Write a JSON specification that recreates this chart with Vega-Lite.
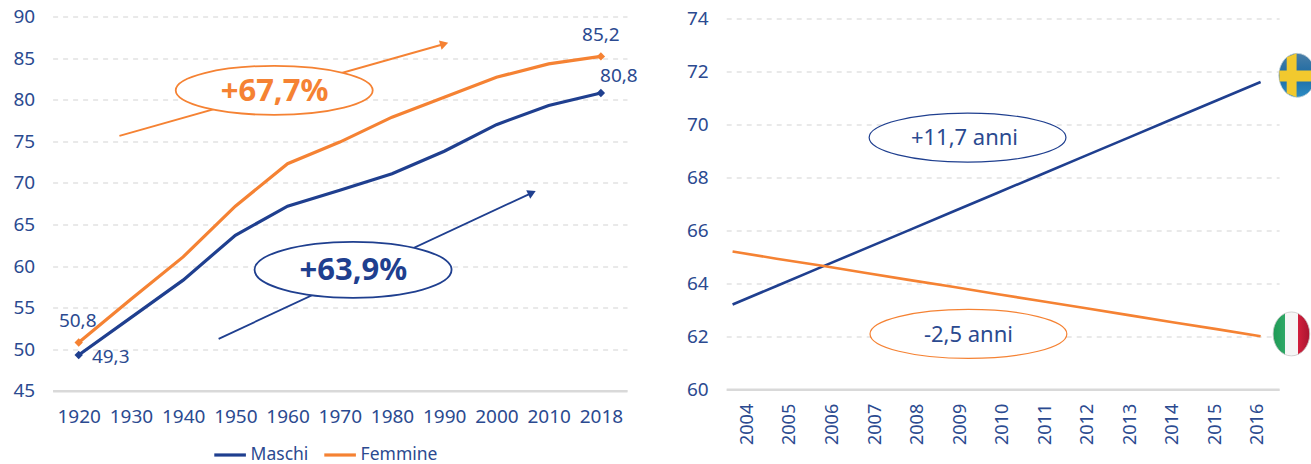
{
"$schema":"https://vega.github.io/schema/vega-lite/v6.json",
"padding":{"left":12.6,"top":7.5,"right":0,"bottom":0},
"background":"white",
"config":{"font":"Noto Sans","view":{"stroke":null},
"axis":{"labelFont":"Noto Sans","labelFontSize":19,"labelColor":"#2B4A90","ticks":false,"title":null},
"legend":{"labelFont":"Noto Sans","labelFontSize":17.5,"labelColor":"#2B4A90"},
"text":{"font":"Noto Sans"}},
"datasets":{
"life":[
{"anno":"1920","serie":"Maschi","val":49.3},{"anno":"1930","serie":"Maschi","val":53.8},{"anno":"1940","serie":"Maschi","val":58.3},{"anno":"1950","serie":"Maschi","val":63.7},{"anno":"1960","serie":"Maschi","val":67.2},{"anno":"1970","serie":"Maschi","val":69.1},{"anno":"1980","serie":"Maschi","val":71.1},{"anno":"1990","serie":"Maschi","val":73.8},{"anno":"2000","serie":"Maschi","val":77.0},{"anno":"2010","serie":"Maschi","val":79.3},{"anno":"2018","serie":"Maschi","val":80.8},
{"anno":"1920","serie":"Femmine","val":50.8},{"anno":"1930","serie":"Femmine","val":56.0},{"anno":"1940","serie":"Femmine","val":61.1},{"anno":"1950","serie":"Femmine","val":67.2},{"anno":"1960","serie":"Femmine","val":72.3},{"anno":"1970","serie":"Femmine","val":74.9},{"anno":"1980","serie":"Femmine","val":77.9},{"anno":"1990","serie":"Femmine","val":80.3},{"anno":"2000","serie":"Femmine","val":82.7},{"anno":"2010","serie":"Femmine","val":84.3},{"anno":"2018","serie":"Femmine","val":85.2}],
"arrows":[
{"a":"F","pos":0.78,"val":75.65,"tip":false},{"a":"F","pos":7.0,"val":86.7,"tip":true},
{"a":"M","pos":2.68,"val":51.25,"tip":false},{"a":"M","pos":8.68,"val":68.8,"tip":true}],
"trend":[
{"anno":2004,"paese":"Svezia","val":63.2},{"anno":2005,"paese":"Svezia","val":63.9},{"anno":2006,"paese":"Svezia","val":64.6},{"anno":2007,"paese":"Svezia","val":65.3},{"anno":2008,"paese":"Svezia","val":66.0},{"anno":2009,"paese":"Svezia","val":66.7},{"anno":2010,"paese":"Svezia","val":67.4},{"anno":2011,"paese":"Svezia","val":68.1},{"anno":2012,"paese":"Svezia","val":68.8},{"anno":2013,"paese":"Svezia","val":69.5},{"anno":2014,"paese":"Svezia","val":70.2},{"anno":2015,"paese":"Svezia","val":70.9},{"anno":2016,"paese":"Svezia","val":71.6},
{"anno":2004,"paese":"Italia","val":65.2},{"anno":2005,"paese":"Italia","val":64.93},{"anno":2006,"paese":"Italia","val":64.67},{"anno":2007,"paese":"Italia","val":64.4},{"anno":2008,"paese":"Italia","val":64.13},{"anno":2009,"paese":"Italia","val":63.87},{"anno":2010,"paese":"Italia","val":63.6},{"anno":2011,"paese":"Italia","val":63.33},{"anno":2012,"paese":"Italia","val":63.07},{"anno":2013,"paese":"Italia","val":62.8},{"anno":2014,"paese":"Italia","val":62.53},{"anno":2015,"paese":"Italia","val":62.27},{"anno":2016,"paese":"Italia","val":62.0}],
"anni":[{"a":"2004"},{"a":"2005"},{"a":"2006"},{"a":"2007"},{"a":"2008"},{"a":"2009"},{"a":"2010"},{"a":"2011"},{"a":"2012"},{"a":"2013"},{"a":"2014"},{"a":"2015"},{"a":"2016"}]
},
"bounds":"flush",
"spacing":98.6,
"hconcat":[
{"width":574.4,"height":374.3,
"resolve":{"scale":{"x":"independent"}},
"layer":[
{"data":{"name":"life"},
"encoding":{
"x":{"field":"anno","type":"ordinal","scale":{"type":"point","padding":0.5},"axis":{"labelAngle":0,"labelPadding":17,"domainColor":"#D9D9D9","domainWidth":2.5,"grid":false}},
"y":{"field":"val","type":"quantitative","scale":{"domain":[45,90],"nice":false},"axis":{"values":[45,50,55,60,65,70,75,80,85,90],"labelPadding":18,"domain":false,"grid":true,"gridColor":"#E2E2E2","gridDash":[5,5],"gridWidth":1.3}}},
"layer":[
{"mark":{"type":"line","strokeWidth":3.2},"encoding":{"color":{"field":"serie","type":"nominal","scale":{"domain":["Maschi","Femmine"],"range":["#1F3F8F","#F58233"]},"legend":{"title":null,"orient":"none","direction":"horizontal","legendX":160,"legendY":421,"symbolType":"stroke","symbolSize":1000,"symbolStrokeWidth":3.2,"labelOffset":3,"columnPadding":9}}}},
{"transform":[{"filter":"datum.anno=='1920'||datum.anno=='2018'"}],"mark":{"type":"point","shape":"diamond","filled":true,"opacity":1,"size":70},"encoding":{"color":{"field":"serie","type":"nominal","legend":null}}},
{"transform":[{"filter":"datum.anno=='2018'&&datum.serie=='Femmine'"},{"calculate":"replace(format(datum.val,'.1f'),'.',',')","as":"t"}],"mark":{"type":"text","fontSize":19,"color":"#2B4A90","dy":-21},"encoding":{"text":{"field":"t"}}},
{"transform":[{"filter":"datum.anno=='2018'&&datum.serie=='Maschi'"},{"calculate":"replace(format(datum.val,'.1f'),'.',',')","as":"t"}],"mark":{"type":"text","fontSize":19,"color":"#2B4A90","dx":18,"dy":-17},"encoding":{"text":{"field":"t"}}},
{"transform":[{"filter":"datum.anno=='1920'&&datum.serie=='Femmine'"},{"calculate":"replace(format(datum.val,'.1f'),'.',',')","as":"t"}],"mark":{"type":"text","fontSize":19,"color":"#2B4A90","dx":-1,"dy":-22},"encoding":{"text":{"field":"t"}}},
{"transform":[{"filter":"datum.anno=='1920'&&datum.serie=='Maschi'"},{"calculate":"replace(format(datum.val,'.1f'),'.',',')","as":"t"}],"mark":{"type":"text","fontSize":19,"color":"#2B4A90","dx":32,"dy":2},"encoding":{"text":{"field":"t"}}}
]},
{"encoding":{"x":{"field":"pos","type":"quantitative","scale":{"domain":[-0.5,10.5],"nice":false,"zero":false},"axis":null},"y":{"field":"val","type":"quantitative"}},
"layer":[
{"data":{"name":"arrows"},"transform":[{"filter":"datum.a=='F'"}],"mark":{"type":"line","color":"#F58233","strokeWidth":2},"encoding":{}},
{"data":{"name":"arrows"},"transform":[{"filter":"datum.a=='F'&&datum.tip"}],"mark":{"type":"point","shape":"triangle-up","filled":true,"opacity":1,"color":"#F58233","size":90,"angle":74},"encoding":{}},
{"data":{"name":"arrows"},"transform":[{"filter":"datum.a=='M'"}],"mark":{"type":"line","color":"#1F3F8F","strokeWidth":1.8},"encoding":{}},
{"data":{"name":"arrows"},"transform":[{"filter":"datum.a=='M'&&datum.tip"}],"mark":{"type":"point","shape":"triangle-up","filled":true,"opacity":1,"color":"#1F3F8F","size":90,"angle":65},"encoding":{}},
{"data":{"values":[{"pos":3.744,"val":81.12}]},"mark":{"type":"point","shape":"M-1,0A1,0.249,0,1,1,1,0A1,0.249,0,1,1,-1,0Z","size":38809,"filled":true,"fill":"white","stroke":"#F58233","strokeWidth":1.8,"opacity":1},"encoding":{}},
{"data":{"values":[{"pos":5.254,"val":59.54}]},"mark":{"type":"point","shape":"M-1,0A1,0.284,0,1,1,1,0A1,0.284,0,1,1,-1,0Z","size":38809,"filled":true,"fill":"white","stroke":"#1F3F8F","strokeWidth":1.8,"opacity":1},"encoding":{}},
{"data":{"values":[{"pos":3.75,"val":80.95,"t":"+67,7%"}]},"mark":{"type":"text","fontSize":31,"fontWeight":"bold","color":"#F58233"},"encoding":{"text":{"field":"t"}}},
{"data":{"values":[{"pos":5.26,"val":59.4,"t":"+63,9%"}]},"mark":{"type":"text","fontSize":31,"fontWeight":"bold","color":"#1F3F8F"},"encoding":{"text":{"field":"t"}}}
]}
]},
{"width":552.9,"height":372.8,
"resolve":{"scale":{"x":"independent"}},
"layer":[
{"data":{"name":"anni"},
"mark":{"type":"point","opacity":0},
"encoding":{
"x":{"field":"a","type":"ordinal","scale":{"type":"point","padding":0.5},"axis":{"labelAngle":-90,"labelFontSize":18,"labelPadding":14,"domainColor":"#D9D9D9","domainWidth":2.5,"grid":false}},
"y":{"datum":60,"type":"quantitative","scale":{"domain":[60,74.07],"nice":false},"axis":{"values":[60,62,64,66,68,70,72,74],"labelPadding":18,"domain":false,"grid":true,"gridColor":"#E2E2E2","gridDash":[5,5],"gridWidth":1.3}}}},
{"encoding":{"x":{"field":"anno","type":"quantitative","scale":{"domain":[2003.855,2016.42],"nice":false,"zero":false},"axis":null},"y":{"field":"val","type":"quantitative"}},
"layer":[
{"data":{"name":"trend"},"transform":[{"filter":"datum.paese=='Svezia'"}],"mark":{"type":"line","color":"#1F3F8F","strokeWidth":2.6,"clip":false},"encoding":{}},
{"data":{"name":"trend"},"transform":[{"filter":"datum.paese=='Italia'"}],"mark":{"type":"line","color":"#F58233","strokeWidth":2.6},"encoding":{}},
{"data":{"values":[{"anno":2009.34,"val":69.5}]},"mark":{"type":"point","shape":"M-1,0A1,0.249,0,1,1,1,0A1,0.249,0,1,1,-1,0Z","size":38730,"filled":true,"fill":"white","stroke":"#1F3F8F","strokeWidth":1.2,"opacity":1},"encoding":{}},
{"data":{"values":[{"anno":2009.36,"val":62.09}]},"mark":{"type":"point","shape":"M-1,0A1,0.249,0,1,1,1,0A1,0.249,0,1,1,-1,0Z","size":38730,"filled":true,"fill":"white","stroke":"#F58233","strokeWidth":1.2,"opacity":1},"encoding":{}},
{"data":{"values":[{"anno":2009.27,"val":69.5,"t":"+11,7 anni"}]},"mark":{"type":"text","fontSize":22,"color":"#2B4A90"},"encoding":{"text":{"field":"t"}}},
{"data":{"values":[{"anno":2009.36,"val":62.05,"t":"-2,5 anni"}]},"mark":{"type":"text","fontSize":22,"color":"#2B4A90"},"encoding":{"text":{"field":"t"}}},
{"data":{"values":[{"anno":2016.83,"val":71.85}]},"mark":{"type":"point","shape":"M-1,0A1,1.2,0,1,1,1,0A1,1.2,0,1,1,-1,0Z","size":1340,"filled":true,"opacity":1,"stroke":"#C9D6DC","strokeWidth":0.8,"fill":{"gradient":"linear","x1":0,"y1":0,"x2":0,"y2":1,"stops":[{"offset":0,"color":"#4A7FA8"},{"offset":0.5,"color":"#1C6AA3"},{"offset":1,"color":"#2C8CC4"}]}},"encoding":{}},
{"data":{"values":[{"anno":2016.83,"val":71.85}]},"mark":{"type":"point","shape":"M-0.57,-0.986L-0.03,-1.2L-0.03,-0.26L0.976,-0.26L0.959,0.34L-0.03,0.34L-0.03,1.2L-0.57,0.986L-0.57,0.34L-0.959,0.34L-0.976,-0.26L-0.57,-0.26Z","size":1340,"filled":true,"opacity":1,"fill":"#F2C92E"},"encoding":{}},
{"data":{"values":[{"anno":2016.7,"val":62.09}]},"mark":{"type":"point","shape":"M-1,0A1,1.2,0,1,1,1,0A1,1.2,0,1,1,-1,0Z","size":1340,"filled":true,"opacity":1,"stroke":"#C8C8C8","strokeWidth":0.8,"fill":{"gradient":"linear","x1":0,"y1":0,"x2":1,"y2":0,"stops":[{"offset":0,"color":"#1E9A55"},{"offset":0.33,"color":"#2FA866"},{"offset":0.33,"color":"#F6F6F6"},{"offset":0.68,"color":"#F6F6F6"},{"offset":0.68,"color":"#D21F3C"},{"offset":1,"color":"#A81430"}]}},"encoding":{}}
]}
]}
]
}
